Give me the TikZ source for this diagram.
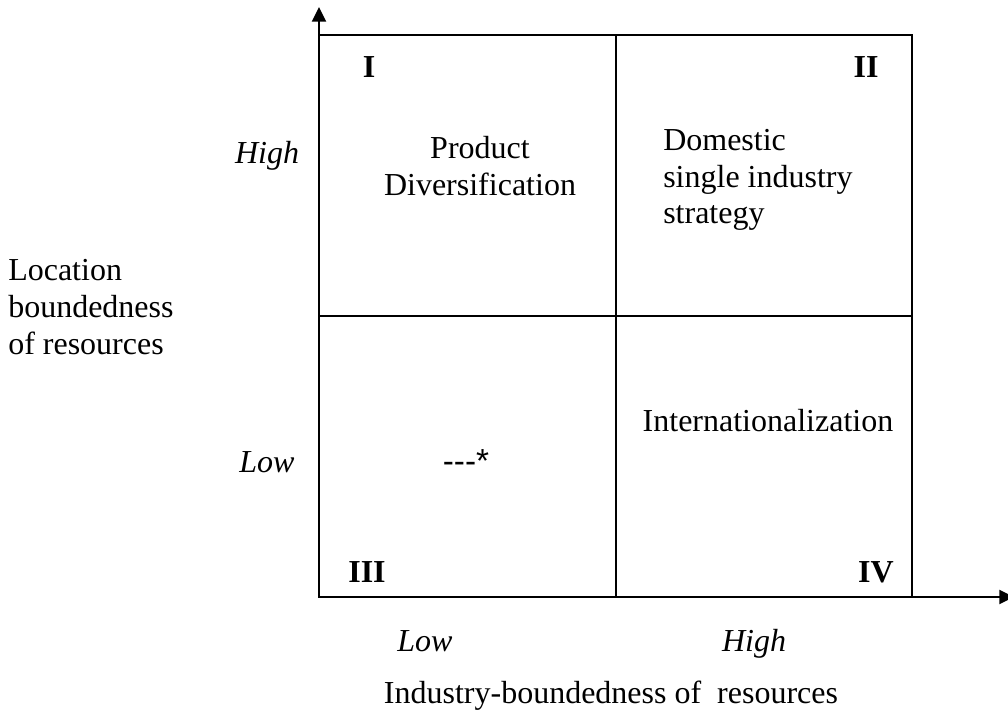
\documentclass[tikz,border=0pt]{standalone}
\usepackage{fontspec}
\setmainfont{Liberation Serif}
\newfontfamily\arialish{Liberation Sans}
\usetikzlibrary{arrows.meta}
\tikzset{
  txt/.style={inner sep=0pt, font=\fontsize{24}{27.5}\selectfont},
  roman/.style={txt, font=\fontsize{24}{27.5}\selectfont\bfseries},
  ital/.style={txt, font=\fontsize{24}{27.5}\selectfont\itshape},
  frame/.style={line width=1.5pt},
  axis/.style={line width=1.5pt, -{Triangle[length=11pt,width=10.5pt]}}
}
\begin{document}
\begin{tikzpicture}[x=0.75pt,y=-0.75pt]
\useasboundingbox (0,0) rectangle (1008,710);
% axes
\coordinate (O) at (319,597);
\coordinate (ytop) at (319,7);
\coordinate (xend) at (1014,597);
\draw[axis] (O) -- (ytop);
\draw[axis] (O) -- (xend);
% frame
\coordinate (TL) at (319,35);
\coordinate (BR) at (912,597);
\draw[frame] (TL) rectangle (BR);
\coordinate (midT) at (616,35);
\coordinate (midB) at (616,597);
\coordinate (midL) at (319,316);
\coordinate (midR) at (912,316);
\draw[frame] (midT) -- (midB);
\draw[frame] (midL) -- (midR);
% quadrant numbers
\node[roman, anchor=base] (q1) at (369,78) {I};
\node[roman, anchor=base] (q2) at (866,78) {II};
\node[roman, anchor=base] (q3) at (367,582) {III};
\node[roman, anchor=base] (q4) at (876,582) {IV};
% quadrant texts
\node[txt, align=center] (pd) at (480,166) {Product\\Diversification};
\node[txt, align=left, anchor=west] (ds) at (663,180) {Domestic\\single industry\\strategy};
\node[txt, anchor=base] (int) at (768,431) {Internationalization};
\node[txt, anchor=base, font=\fontsize{25}{28}\selectfont\arialish] (none) at (466,472) {-{}-{}-*};
% axis labels
\node[ital, anchor=base] (yhigh) at (267,164) {High};
\node[ital, anchor=base] (ylow) at (267,472) {Low};
\node[ital, anchor=base] (xlow) at (425,651) {Low};
\node[ital, anchor=base] (xhigh) at (754,651) {High};
\node[txt, align=left, anchor=west] (ylab) at (8,307) {Location\\boundedness\\of resources};
\node[txt, anchor=base] (xlab) at (611,703) {Industry-boundedness of\ \ resources};
\end{tikzpicture}
\end{document}
